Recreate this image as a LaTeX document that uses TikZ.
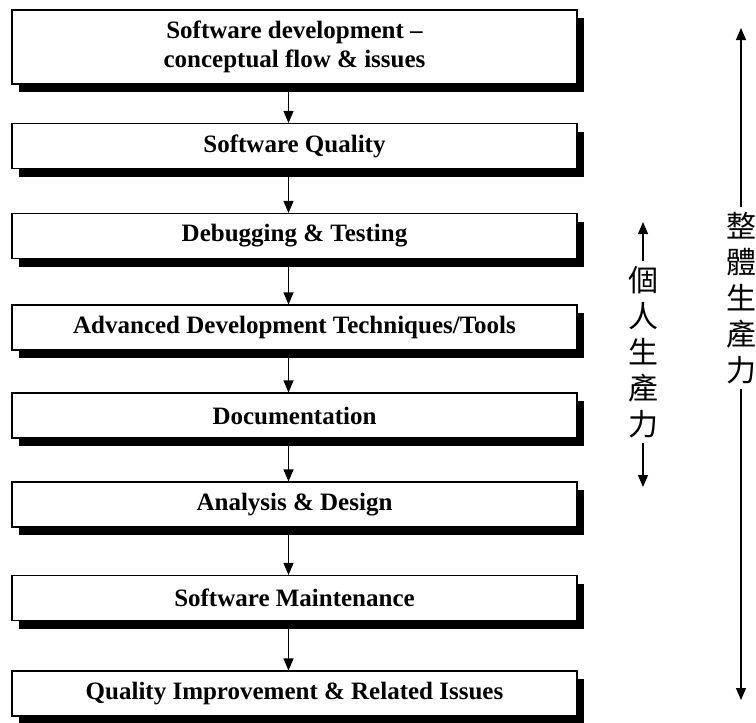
\documentclass[tikz,border=0pt]{standalone}
\usepackage{fontspec}
\setmainfont{Liberation Serif}
\newfontfamily\cjk{Noto Sans CJK TC}
\usetikzlibrary{shadows,arrows.meta}

\begin{document}
\begin{tikzpicture}[x=1pt, y=-1pt, >={Triangle[length=12pt,width=10pt]},
    stage/.style={rectangle, draw, fill=white, line width=1.1pt,
      minimum width=565pt, minimum height=45pt, align=center,
      font=\fontsize{25}{29}\selectfont\bfseries,
      drop shadow={shadow xshift=7pt, shadow yshift=-8pt, fill=black, opacity=1}},
    vlabel/.style={align=center, inner sep=5pt, font=\cjk\fontsize{30}{36}\selectfont}]
  \useasboundingbox (0,0) rectangle (756,723);

      \node (A) [stage, minimum height=74pt] at (294.5, 47) {
        Software development --\\
        conceptual flow \& issues
      };
      \node (B) [stage] at (294.5, 146) {Software Quality};
      \node (C) [stage] at (294.5, 236) {Debugging \& Testing};
      \node (D) [stage] at (294.5, 327.5) {Advanced Development Techniques/Tools};
      \node (E) [stage] at (294.5, 415.5) {Documentation};
      \node (F) [stage] at (294.5, 504.5) {Analysis \& Design};
      \node (G) [stage] at (294.5, 598) {Software Maintenance};
      \node (H) [stage] at (294.5, 693.5) {Quality Improvement \& Related Issues};

      \foreach \a/\b in {A/B, B/C, C/D, D/E, E/F, F/G, G/H}
        \draw[->, line width=1.1pt] ([xshift=-6pt]\a.south) to ([xshift=-6pt]\b.north);

      \node (P) [vlabel] at (643, 352) {個\\人\\生\\產\\力};
      \coordinate (Ptop) at (643, 222);
      \coordinate (Pbot) at (643, 487);
      \draw[->, line width=1.1pt] (P) to (Ptop);
      \draw[->, line width=1.1pt] (P) to (Pbot);

      \node (W) [vlabel] at (741, 298) {整\\體\\生\\產\\力};
      \coordinate (Wtop) at (741, 28);
      \coordinate (Wbot) at (741, 700);
      \draw[->, line width=1.1pt] (W) to (Wtop);
      \draw[->, line width=1.1pt] (W) to (Wbot);
    \end{tikzpicture}
\end{document}
